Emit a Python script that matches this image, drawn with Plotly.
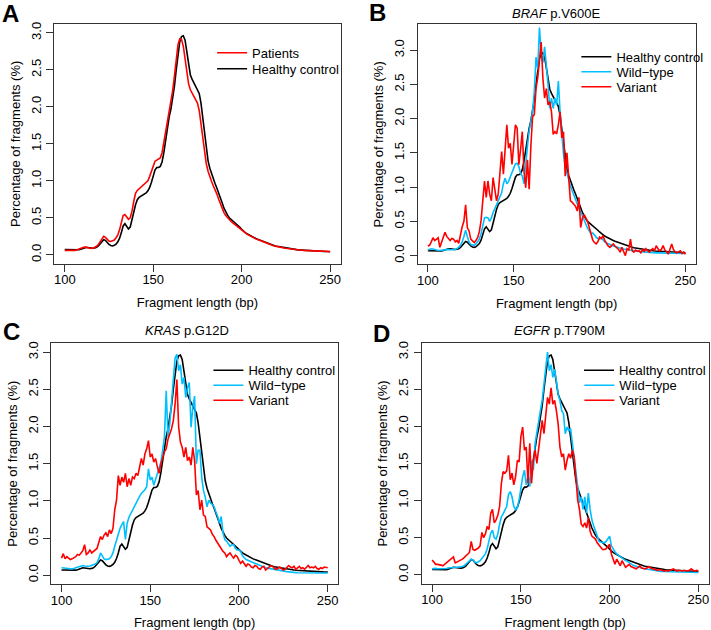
import plotly.graph_objects as go
from plotly.subplots import make_subplots

# fragment lengths (bp)
lengths = list(range(100, 251))

healthy_control = [
    0.07, 0.07, 0.068, 0.065, 0.062, 0.06, 0.06, 0.063, 0.068, 0.075,
    0.085, 0.095, 0.10, 0.098, 0.092, 0.088, 0.088, 0.092, 0.10, 0.12,
    0.15, 0.185, 0.205, 0.195, 0.165, 0.14, 0.125, 0.12, 0.128, 0.145,
    0.175, 0.225, 0.30, 0.39, 0.42, 0.385, 0.35, 0.375, 0.46, 0.575,
    0.675, 0.745, 0.775, 0.79, 0.80, 0.815, 0.835, 0.865, 0.91, 0.98,
    1.065, 1.145, 1.18, 1.18, 1.195, 1.255, 1.38, 1.55, 1.72, 1.86,
    1.97, 2.10, 2.28, 2.50, 2.72, 2.88, 2.95, 2.96, 2.90, 2.75,
    2.57, 2.43, 2.37, 2.32, 2.28, 2.24, 2.18, 2.05, 1.85, 1.62,
    1.42, 1.27, 1.17, 1.09, 1.02, 0.96, 0.90, 0.84, 0.77, 0.70,
    0.63, 0.575, 0.535, 0.50, 0.48, 0.46, 0.44, 0.42, 0.40, 0.37,
    0.345, 0.32, 0.30, 0.285, 0.27, 0.255, 0.24, 0.23, 0.22, 0.21,
    0.20, 0.19, 0.18, 0.17, 0.16, 0.15, 0.142, 0.135, 0.128, 0.12,
    0.115, 0.11, 0.105, 0.10, 0.095, 0.09, 0.086, 0.082, 0.078, 0.075,
    0.072, 0.07, 0.067, 0.065, 0.062, 0.06, 0.058, 0.056, 0.055, 0.054,
    0.052, 0.051, 0.05, 0.049, 0.048, 0.047, 0.046, 0.045, 0.044, 0.043,
    0.042,
]

patients = [
    0.06, 0.06, 0.06, 0.058, 0.056, 0.056, 0.06, 0.068, 0.08, 0.092,
    0.10, 0.105, 0.10, 0.092, 0.086, 0.085, 0.09, 0.10, 0.115, 0.14,
    0.18, 0.225, 0.25, 0.235, 0.205, 0.185, 0.18, 0.185, 0.20, 0.23,
    0.27, 0.34, 0.44, 0.53, 0.545, 0.505, 0.48, 0.50, 0.59, 0.72,
    0.83, 0.87, 0.89, 0.91, 0.93, 0.95, 0.97, 1.00, 1.06, 1.14,
    1.215, 1.265, 1.28, 1.29, 1.31, 1.38, 1.52, 1.69, 1.84, 1.95,
    2.06, 2.22, 2.42, 2.65, 2.84, 2.92, 2.91, 2.82, 2.64, 2.46,
    2.31, 2.23, 2.18, 2.14, 2.10, 2.05, 1.95, 1.78, 1.56, 1.37,
    1.23, 1.13, 1.05, 0.99, 0.93, 0.88, 0.82, 0.75, 0.68, 0.62,
    0.57, 0.53, 0.50, 0.47, 0.45, 0.43, 0.41, 0.39, 0.37, 0.355,
    0.335, 0.315, 0.295, 0.28, 0.265, 0.25, 0.235, 0.225, 0.215, 0.205,
    0.195, 0.185, 0.175, 0.165, 0.155, 0.145, 0.138, 0.13, 0.123, 0.117,
    0.11, 0.105, 0.10, 0.096, 0.092, 0.088, 0.084, 0.08, 0.077, 0.074,
    0.071, 0.068, 0.066, 0.063, 0.061, 0.059, 0.057, 0.056, 0.055, 0.054,
    0.053, 0.052, 0.051, 0.05, 0.05, 0.049, 0.048, 0.047, 0.046, 0.045,
    0.044,
]

braf_wildtype = [
    0.08, 0.09, 0.10, 0.095, 0.085, 0.08, 0.075, 0.075, 0.08, 0.085,
    0.09, 0.095, 0.09, 0.085, 0.08, 0.085, 0.09, 0.10, 0.12, 0.15,
    0.20, 0.28, 0.37, 0.28, 0.20, 0.16, 0.15, 0.15, 0.17, 0.20,
    0.24, 0.32, 0.42, 0.55, 0.56, 0.55, 0.50, 0.55, 0.63, 0.70,
    0.74, 0.80, 0.85, 0.92, 1.05, 1.13, 1.05, 1.08, 1.15, 1.22,
    1.30, 1.34, 1.35, 1.30, 1.20, 1.16, 1.05, 1.35, 1.60, 1.82,
    2.00, 2.10, 2.40, 2.90, 2.72, 3.33, 2.95, 2.82, 3.05, 2.70,
    2.50, 2.15, 2.30, 2.15, 2.30, 2.20, 2.55, 2.10, 1.75, 1.48,
    1.30, 1.20, 1.10, 1.02, 0.95, 0.88, 0.80, 0.74, 0.69, 0.64,
    0.58, 0.51, 0.45, 0.40, 0.36, 0.32, 0.33, 0.29, 0.27, 0.25,
    0.24, 0.26, 0.22, 0.20, 0.185, 0.17, 0.16, 0.15, 0.14, 0.13,
    0.12, 0.115, 0.11, 0.10, 0.095, 0.09, 0.085, 0.08, 0.075, 0.07,
    0.068, 0.065, 0.062, 0.06, 0.058, 0.055, 0.053, 0.05, 0.048, 0.046,
    0.045, 0.043, 0.042, 0.04, 0.04, 0.038, 0.037, 0.036, 0.035, 0.035,
    0.034, 0.034, 0.033, 0.033, 0.032, 0.032, 0.031, 0.031, 0.03, 0.03,
    0.03,
]

braf_variant = [
    0.14, 0.15, 0.20, 0.26, 0.22, 0.24, 0.26, 0.12, 0.20, 0.28,
    0.34, 0.28, 0.24, 0.22, 0.25, 0.24, 0.20, 0.22, 0.18, 0.31,
    0.42, 0.50, 0.74, 0.41, 0.36, 0.24, 0.22, 0.19, 0.22, 0.26,
    0.35, 0.51, 0.80, 1.09, 0.85, 1.09, 0.90, 0.80, 1.14, 0.95,
    0.80, 0.90, 1.25, 1.52, 1.19, 1.55, 1.91, 1.57, 1.64, 1.33,
    1.60, 1.91, 1.86, 1.33, 1.55, 1.81, 1.23, 0.99, 1.40, 0.97,
    1.60, 2.03, 2.06, 2.44, 2.60, 2.85, 3.12, 2.59, 2.30, 2.44,
    2.20, 2.25, 2.10, 1.77, 1.81, 1.78, 1.91, 2.10, 1.72, 1.81,
    1.16, 1.50, 1.10, 0.80, 0.78, 0.75, 0.72, 0.65, 0.85, 0.41,
    0.55, 0.60, 0.56, 0.50, 0.41, 0.30, 0.23, 0.19, 0.17, 0.20,
    0.27, 0.25, 0.29, 0.22, 0.17, 0.14, 0.12, 0.15, 0.17, 0.14,
    0.12, 0.09, 0.05, 0.12, 0.06, 0.00, 0.10, 0.08, 0.24, 0.07,
    0.05, 0.08, 0.06, 0.07, 0.04, 0.09, 0.06, 0.10, 0.07, 0.05,
    0.08, 0.10, 0.07, 0.145, 0.10, 0.07, 0.09, 0.145, 0.08, 0.06,
    0.02, 0.10, 0.17, 0.09, 0.05, 0.04, 0.06, 0.07, 0.03, 0.05,
    0.02,
]

kras_wildtype = [
    0.10, 0.10, 0.10, 0.095, 0.09, 0.085, 0.085, 0.09, 0.10, 0.11,
    0.12, 0.13, 0.13, 0.125, 0.12, 0.12, 0.125, 0.13, 0.14, 0.15,
    0.17, 0.22, 0.30, 0.25, 0.22, 0.21, 0.21, 0.22, 0.25, 0.30,
    0.39, 0.48, 0.57, 0.63, 0.68, 0.72, 0.48, 0.70, 0.78, 0.83,
    0.88, 0.92, 0.97, 1.01, 1.06, 1.10, 1.12, 1.15, 1.19, 1.43,
    1.28, 1.32, 1.21, 1.28, 1.37, 1.45, 1.52, 1.68, 1.86, 2.48,
    1.86, 2.03, 2.30, 2.66, 2.92, 2.97, 2.75, 2.83, 2.57, 2.66,
    2.39, 2.52, 2.59, 1.99, 2.26, 2.41, 1.50, 1.68, 1.68, 1.32,
    1.14, 1.05, 0.92, 1.01, 0.97, 0.95, 0.92, 0.85, 0.79, 0.70,
    0.79, 0.57, 0.48, 0.46, 0.43, 0.39, 0.41, 0.41, 0.36, 0.34,
    0.34, 0.32, 0.26, 0.23, 0.21, 0.20, 0.19, 0.17, 0.16, 0.15,
    0.14, 0.13, 0.12, 0.115, 0.11, 0.10, 0.095, 0.09, 0.085, 0.08,
    0.075, 0.07, 0.065, 0.06, 0.058, 0.055, 0.05, 0.048, 0.045, 0.04,
    0.038, 0.036, 0.035, 0.034, 0.033, 0.032, 0.032, 0.031, 0.031, 0.03,
    0.03, 0.03, 0.03, 0.03, 0.03, 0.03, 0.03, 0.03, 0.03, 0.03,
    0.03,
]

kras_variant = [
    0.23, 0.29, 0.22, 0.25, 0.23, 0.21, 0.22, 0.23, 0.25, 0.28,
    0.27, 0.30, 0.33, 0.41, 0.28, 0.30, 0.34, 0.30, 0.32, 0.33,
    0.36, 0.44, 0.52, 0.48, 0.54, 0.57, 0.52, 0.61, 0.56, 0.63,
    0.88, 1.01, 1.34, 1.21, 1.32, 1.25, 1.37, 1.19, 1.30, 1.21,
    1.32, 1.30, 1.37, 1.34, 1.45, 1.57, 1.48, 1.63, 1.70, 1.81,
    1.59, 1.63, 1.52, 1.57, 1.46, 1.37, 1.50, 1.59, 1.66, 1.70,
    1.83, 1.90, 1.97, 2.08, 2.30, 2.63, 2.00, 1.79, 1.72, 1.59,
    1.72, 1.54, 1.59, 1.48, 1.72, 1.54, 1.08, 1.14, 0.88, 1.01,
    0.81, 0.79, 0.65, 0.63, 0.61, 0.55, 0.52, 0.47, 0.43, 0.40,
    0.36, 0.32, 0.30, 0.25, 0.28, 0.30, 0.26, 0.23, 0.27, 0.25,
    0.20, 0.16, 0.19, 0.15, 0.12, 0.15, 0.14, 0.11, 0.10, 0.13,
    0.12, 0.09, 0.08, 0.11, 0.12, 0.07, 0.09, 0.10, 0.13, 0.12,
    0.09, 0.08, 0.10, 0.11, 0.09, 0.07, 0.08, 0.10, 0.13, 0.11,
    0.10, 0.12, 0.08, 0.10, 0.12, 0.09, 0.10, 0.08, 0.11, 0.13,
    0.10, 0.11, 0.10, 0.12, 0.09, 0.08, 0.10, 0.09, 0.11, 0.10,
    0.10,
]

egfr_wildtype = [
    0.08, 0.085, 0.085, 0.08, 0.08, 0.075, 0.075, 0.08, 0.085, 0.09,
    0.095, 0.10, 0.105, 0.10, 0.10, 0.10, 0.105, 0.11, 0.12, 0.14,
    0.16, 0.19, 0.21, 0.20, 0.17, 0.16, 0.17, 0.19, 0.22, 0.25,
    0.28, 0.35, 0.45, 0.56, 0.60, 0.50, 0.48, 0.55, 0.68, 0.78,
    0.82, 0.87, 0.92, 1.08, 1.12, 1.05, 0.92, 0.88, 0.90, 1.01,
    1.19, 1.32, 1.41, 1.21, 1.32, 1.19, 1.54, 1.41, 1.77, 1.90,
    2.08, 2.21, 2.35, 2.55, 2.83, 3.00, 2.75, 2.83, 2.66, 2.77,
    2.61, 2.43, 2.35, 2.21, 2.17, 1.90, 1.99, 1.94, 1.97, 1.79,
    1.59, 1.37, 1.19, 0.97, 1.05, 0.88, 1.05, 0.83, 1.10, 0.88,
    0.74, 0.66, 0.58, 0.52, 0.45, 0.44, 0.43, 0.43, 0.45, 0.48,
    0.52, 0.39, 0.34, 0.31, 0.28, 0.26, 0.24, 0.23, 0.21, 0.19,
    0.18, 0.16, 0.14, 0.13, 0.12, 0.11, 0.10, 0.095, 0.09, 0.085,
    0.08, 0.075, 0.07, 0.065, 0.06, 0.055, 0.052, 0.05, 0.048, 0.045,
    0.043, 0.042, 0.04, 0.04, 0.038, 0.037, 0.036, 0.035, 0.034, 0.034,
    0.033, 0.033, 0.032, 0.032, 0.031, 0.031, 0.03, 0.03, 0.03, 0.03,
    0.03,
]

egfr_variant = [
    0.20, 0.17, 0.14, 0.14, 0.14, 0.13, 0.12, 0.14, 0.17, 0.19,
    0.21, 0.22, 0.24, 0.16, 0.17, 0.19, 0.20, 0.21, 0.23, 0.25,
    0.27, 0.30, 0.45, 0.34, 0.33, 0.34, 0.36, 0.39, 0.57, 0.50,
    0.55, 0.65, 0.61, 0.83, 0.88, 0.70, 0.74, 0.80, 0.92, 1.23,
    1.39, 1.37, 1.40, 1.61, 1.28, 1.37, 1.21, 1.32, 1.54, 1.52,
    1.86, 1.99, 1.68, 1.72, 1.23, 1.77, 1.23, 1.54, 1.68, 1.50,
    1.72, 1.86, 2.08, 1.90, 2.21, 2.39, 2.30, 2.52, 2.30, 2.35,
    2.21, 2.03, 1.72, 1.59, 1.63, 1.41, 1.54, 1.63, 1.57, 1.68,
    1.59, 1.23, 1.01, 0.88, 0.68, 0.65, 0.70, 0.63, 0.77, 0.59,
    0.52, 0.50, 0.48, 0.43, 0.40, 0.36, 0.34, 0.34, 0.35, 0.38,
    0.41, 0.28, 0.20, 0.14, 0.21, 0.16, 0.12, 0.19, 0.15, 0.10,
    0.12, 0.14, 0.11, 0.10, 0.09, 0.08, 0.10, 0.12, 0.09, 0.08,
    0.08, 0.09, 0.11, 0.09, 0.08, 0.08, 0.07, 0.06, 0.07, 0.06,
    0.05, 0.05, 0.06, 0.05, 0.06, 0.07, 0.08, 0.06, 0.05, 0.06,
    0.05, 0.05, 0.06, 0.05, 0.05, 0.06, 0.08, 0.06, 0.05, 0.06,
    0.05,
]

x_ticks = [100, 150, 200, 250]
y_ticks = [0.0, 0.5, 1.0, 1.5, 2.0, 2.5, 3.0]
y_tick_labels = ["0.0", "0.5", "1.0", "1.5", "2.0", "2.5", "3.0"]

W, H = 711, 630
FONT = "Liberation Sans, Arial, sans-serif"
RED = "#FF0000"
BLUE = "#00BFFF"
BLACK = "#000000"
LW = 1.6

# plot boxes in pixels: (left, right, top, bottom)
boxes = {
    (1, 1): (53.3, 340.7, 22.0, 262.5),
    (1, 2): (417.7, 696.7, 22.3, 263.3),
    (2, 1): (50.0, 338.3, 342.3, 584.0),
    (2, 2): (421.7, 710.0, 342.3, 583.5),
}
y_ranges = {
    (1, 1): [-0.12, 3.12],
    (1, 2): [-0.13, 3.38],
    (2, 1): [-0.12, 3.12],
    (2, 2): [-0.12, 3.12],
}

# legend rows: left x of line sample, centre y of each row (pixels)
legend_pos = {
    (1, 1): (211.7, [51, 67]),
    (1, 2): (577.0, [55, 70, 85]),
    (2, 1): (208.0, [369.5, 384.5, 399.5]),
    (2, 2): (580.0, [369.5, 384.5, 399.5]),
}

fig = make_subplots(rows=2, cols=2)

legend_layout = {}
leg_count = [0]


def next_legend(x_px, y_px):
    # one small legend per trace so the rows can sit as tightly as in the original
    leg_count[0] += 1
    key = "legend" if leg_count[0] == 1 else f"legend{leg_count[0]}"
    legend_layout[key] = dict(
        x=x_px / W, y=1 - y_px / H, xanchor="left", yanchor="middle",
        bgcolor="rgba(0,0,0,0)", borderwidth=0, visible=True,
        font=dict(size=13, color="black", family=FONT),
    )
    return key


# panel A
lx, rows_y = legend_pos[(1, 1)]
fig.add_trace(go.Scatter(x=lengths, y=healthy_control, mode="lines", name="Healthy control",
                         line=dict(color=BLACK, width=LW), legend=next_legend(lx, rows_y[1])),
              row=1, col=1)
fig.add_trace(go.Scatter(x=lengths, y=patients, mode="lines", name="Patients",
                         line=dict(color=RED, width=LW), legend=next_legend(lx, rows_y[0])),
              row=1, col=1)

# panels B, C, D
panels = [
    (1, 2, braf_wildtype, braf_variant),
    (2, 1, kras_wildtype, kras_variant),
    (2, 2, egfr_wildtype, egfr_variant),
]
for r, c, wt, var in panels:
    lx, rows_y = legend_pos[(r, c)]
    fig.add_trace(go.Scatter(x=lengths, y=healthy_control, mode="lines", name="Healthy control",
                             line=dict(color=BLACK, width=LW), legend=next_legend(lx, rows_y[0])),
                  row=r, col=c)
    fig.add_trace(go.Scatter(x=lengths, y=wt, mode="lines", name="Wild\u2212type",
                             line=dict(color=BLUE, width=LW), legend=next_legend(lx, rows_y[1])),
                  row=r, col=c)
    fig.add_trace(go.Scatter(x=lengths, y=var, mode="lines", name="Variant",
                             line=dict(color=RED, width=LW), legend=next_legend(lx, rows_y[2])),
                  row=r, col=c)

for (r, c), (l, rr, t, b) in boxes.items():
    fig.update_xaxes(
        domain=[l / W, rr / W], range=[94, 256],
        tickvals=x_ticks, ticks="outside", ticklen=7, tickcolor="#333",
        ticklabelstandoff=-3,
        showline=True, mirror=True, linecolor="#333", linewidth=1,
        showgrid=False, zeroline=False,
        tickfont=dict(size=13, color="black"),
        title=dict(text="Fragment length (bp)", font=dict(size=13, color="black"), standoff=11),
        row=r, col=c,
    )
    fig.update_yaxes(
        domain=[1 - b / H, 1 - t / H], range=y_ranges[(r, c)],
        tickvals=y_ticks, ticktext=y_tick_labels, tickangle=-90,
        ticks="outside", ticklen=7, tickcolor="#333",
        showline=True, mirror=True, linecolor="#333", linewidth=1,
        showgrid=False, zeroline=False,
        tickfont=dict(size=13, color="black"),
        title=dict(text="Percentage of fragments (%)", font=dict(size=13, color="black"), standoff=5),
        row=r, col=c,
    )

fig.update_layout(
    width=W, height=H,
    margin=dict(l=0, r=0, t=0, b=0),
    plot_bgcolor="white", paper_bgcolor="white",
    font=dict(family=FONT, size=13, color="black"),
    showlegend=True,
    **legend_layout,
)

# panel letters
letters = [("A", 10, 12), ("B", 378, 11), ("C", 11, 331), ("D", 382, 333)]
for txt, px_, py_ in letters:
    fig.add_annotation(text=f"<b>{txt}</b>", x=px_ / W, y=1 - py_ / H, xref="paper", yref="paper",
                       showarrow=False, xanchor="center", yanchor="middle",
                       font=dict(size=24, family=FONT, color="black"))

# panel titles
titles = [("<i>BRAF</i> p.V600E", 557, 12), ("<i>KRAS</i> p.G12D", 187, 330), ("<i>EGFR</i> p.T790M", 560, 330)]
for txt, px_, py_ in titles:
    fig.add_annotation(text=txt, x=px_ / W, y=1 - py_ / H, xref="paper", yref="paper",
                       showarrow=False, xanchor="center", yanchor="middle",
                       font=dict(size=13, family=FONT, color="black"))

# drop the default page margin so the figure sits at the window's corner
fig.write_html("out.html", config={"displayModeBar": False},
               post_script="document.body.style.margin='0px';")
